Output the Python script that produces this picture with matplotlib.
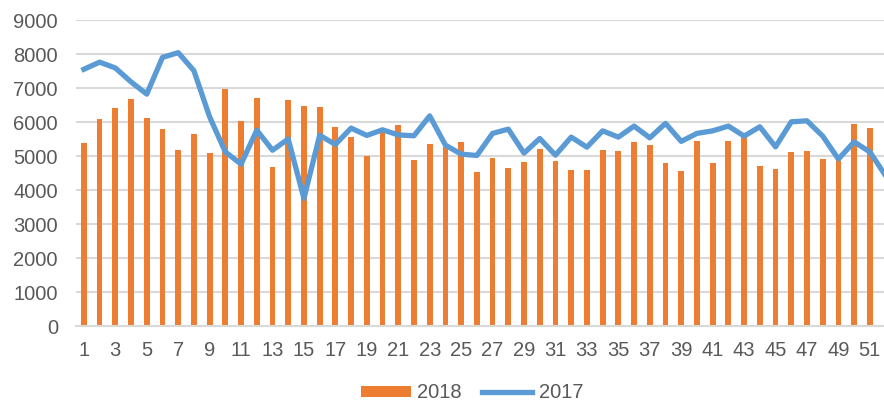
import numpy as np
import matplotlib.pyplot as plt

plt.rcParams['font.family'] = ['Liberation Sans', 'DejaVu Sans']

# weekly values
weeks_2017 = np.arange(1, 53)
weeks_2018 = np.arange(1, 52)

v2018 = [5390, 6100, 6400, 6665, 6125, 5790, 5190, 5635, 5085, 6970,
         6015, 6700, 4670, 6645, 6465, 6430, 5850, 5565, 5005, 5700,
         5910, 4870, 5350, 5270, 5400, 4525, 4930, 4635, 4810, 5195,
         4840, 4585, 4575, 5165, 5135, 5415, 5310, 4800, 4565, 5440,
         4780, 5440, 5545, 4700, 4615, 5105, 5135, 4915, 4890, 5940,
         5820]

v2017 = [7550, 7760, 7590, 7180, 6820, 7900, 8040, 7510, 6150, 5120,
         4760, 5760, 5170, 5500, 3750, 5610, 5340, 5820, 5605, 5770,
         5620, 5595, 6180, 5320, 5055, 5015, 5665, 5790, 5085, 5515,
         5025, 5555, 5260, 5740, 5555, 5880, 5535, 5960, 5430, 5665,
         5740, 5880, 5585, 5860, 5270, 6005, 6035, 5585, 4910, 5415,
         5120, 4420]

x_labels = [str(w) for w in range(1, 53, 2)]
y_ticks = list(range(0, 9001, 1000))

text_col = '#595959'
grid_col = '#d9d9d9'

fig = plt.figure(figsize=(8.84, 4.03), dpi=100)
ax = fig.add_axes([76 / 884, 77 / 403, 808 / 884, 306 / 403])

bars = ax.bar(weeks_2018, v2018, width=0.37, color='#ED7D31', label='2018', zorder=2)
line, = ax.plot(weeks_2017, v2017, color='#5B9BD5', linewidth=3.8, label='2017',
                solid_joinstyle='round', zorder=3)

ax.set_ylim(0, 9000)
ax.set_xlim(0.5, 0.5 + 808 / 15.72)
ax.set_yticks(y_ticks)
ax.set_xticks(range(1, 53, 2))
ax.set_xticklabels(x_labels)

for s in ['top', 'right', 'left']:
    ax.spines[s].set_visible(False)
ax.spines['bottom'].set_color(grid_col)
ax.spines['bottom'].set_linewidth(1.5)

ax.grid(axis='y', color=grid_col, linewidth=1.5, zorder=0)
ax.set_axisbelow(True)
ax.tick_params(axis='both', length=0, labelsize=14.5, colors=text_col)
ax.tick_params(axis='x', pad=11)
ax.tick_params(axis='y', pad=13)

leg = fig.legend([bars, line], ['2018', '2017'], loc='center',
                 bbox_to_anchor=(472 / 884, 1 - 393 / 403),
                 ncol=2, frameon=False, fontsize=14.5, handlelength=2.5,
                 handleheight=0.5, handletextpad=0.3, columnspacing=1.0)
for t in leg.get_texts():
    t.set_color(text_col)

plt.savefig('out.png', dpi=100)
